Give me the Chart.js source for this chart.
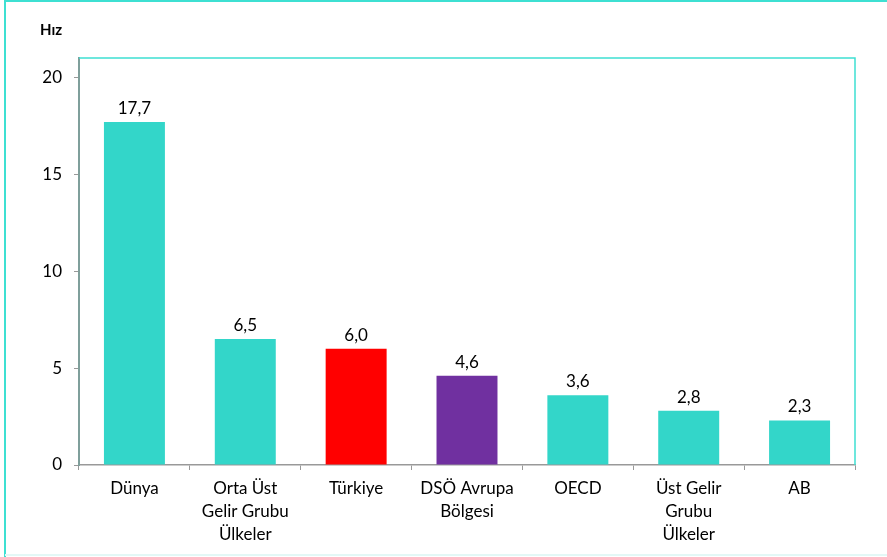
<!DOCTYPE html>
<html lang="tr">
<head>
    <meta charset="UTF-8">
    <title>Hız</title>
    <script src="https://cdn.jsdelivr.net/npm/chart.js"></script>
    <style>
        body { margin: 0; background: #fff; }
        canvas { display: block; }
    </style>
</head>
<body>
    <canvas id="rateChart" width="887" height="557"></canvas>
    <script>
        const categories = [
            'Dünya',
            ['Orta Üst', 'Gelir Grubu', 'Ülkeler'],
            'Türkiye',
            ['DSÖ Avrupa', 'Bölgesi'],
            'OECD',
            ['Üst Gelir', 'Grubu', 'Ülkeler'],
            'AB'
        ];
        const rates = [17.7, 6.5, 6.0, 4.6, 3.6, 2.8, 2.3];
        const barColors = ['#33d6c9', '#33d6c9', '#ff0000', '#7030a0', '#33d6c9', '#33d6c9', '#33d6c9'];
        const yTicks = [0, 5, 10, 15, 20];

        const turquoise = '#3ee0d2';
        const axisGrey = '#7f9f9b';
        const fontFamily = 'Lato, "Open Sans", sans-serif';

        // frames, title and value labels
        const decorations = {
            id: 'decorations',
            afterDatasetsDraw(chart) {
                const ctx = chart.ctx;
                const area = chart.chartArea;
                ctx.save();
                // outer frame
                ctx.strokeStyle = turquoise;
                ctx.lineWidth = 2;
                ctx.beginPath();
                ctx.moveTo(5, 557);
                ctx.lineTo(5, 1);
                ctx.lineTo(887, 1);
                ctx.stroke();
                ctx.strokeStyle = '#e3f8f6';
                ctx.beginPath();
                ctx.moveTo(5, 555);
                ctx.lineTo(887, 555);
                ctx.stroke();
                // plot area top and right
                ctx.strokeStyle = turquoise;
                ctx.lineWidth = 1.5;
                ctx.beginPath();
                ctx.moveTo(area.left, area.top);
                ctx.lineTo(area.right, area.top);
                ctx.lineTo(area.right, area.bottom);
                ctx.stroke();

                ctx.fillStyle = '#000';
                ctx.font = 'bold 15px ' + fontFamily;
                ctx.textAlign = 'left';
                ctx.textBaseline = 'middle';
                ctx.fillText('Hız', 40, 30);

                ctx.font = '17px ' + fontFamily;
                ctx.textAlign = 'center';
                ctx.textBaseline = 'bottom';
                chart.getDatasetMeta(0).data.forEach((bar, i) => {
                    ctx.fillText(rates[i].toFixed(1).replace('.', ','), bar.x, bar.y - 5);
                });
                ctx.restore();
            }
        };

        new Chart(document.getElementById('rateChart').getContext('2d'), {
            type: 'bar',
            data: {
                labels: categories,
                datasets: [{
                    data: rates,
                    backgroundColor: barColors,
                    barPercentage: 0.55,
                    categoryPercentage: 1.0
                }]
            },
            options: {
                responsive: false,
                animation: false,
                layout: { padding: { left: 0, top: 58, right: 32, bottom: 0 } },
                plugins: {
                    legend: { display: false },
                    tooltip: { enabled: false }
                },
                scales: {
                    x: {
                        afterFit(scale) { scale.height = 92; },
                        border: { color: '#999', width: 1.5 },
                        grid: { drawOnChartArea: false, tickLength: 5, color: '#999', offset: true },
                        ticks: {
                            color: '#000',
                            padding: 7,
                            maxRotation: 0,
                            font: { family: fontFamily, size: 17, lineHeight: 1.36 }
                        }
                    },
                    y: {
                        min: 0,
                        max: 21,
                        afterFit(scale) { scale.width = 79; },
                        afterBuildTicks(scale) { scale.ticks = yTicks.map(v => ({ value: v })); },
                        border: { color: axisGrey, width: 2 },
                        grid: { drawOnChartArea: false, tickLength: 5, color: '#999' },
                        ticks: {
                            color: '#000',
                            padding: 12,
                            font: { family: fontFamily, size: 17 }
                        }
                    }
                }
            },
            plugins: [decorations]
        });
    </script>
</body>
</html>
